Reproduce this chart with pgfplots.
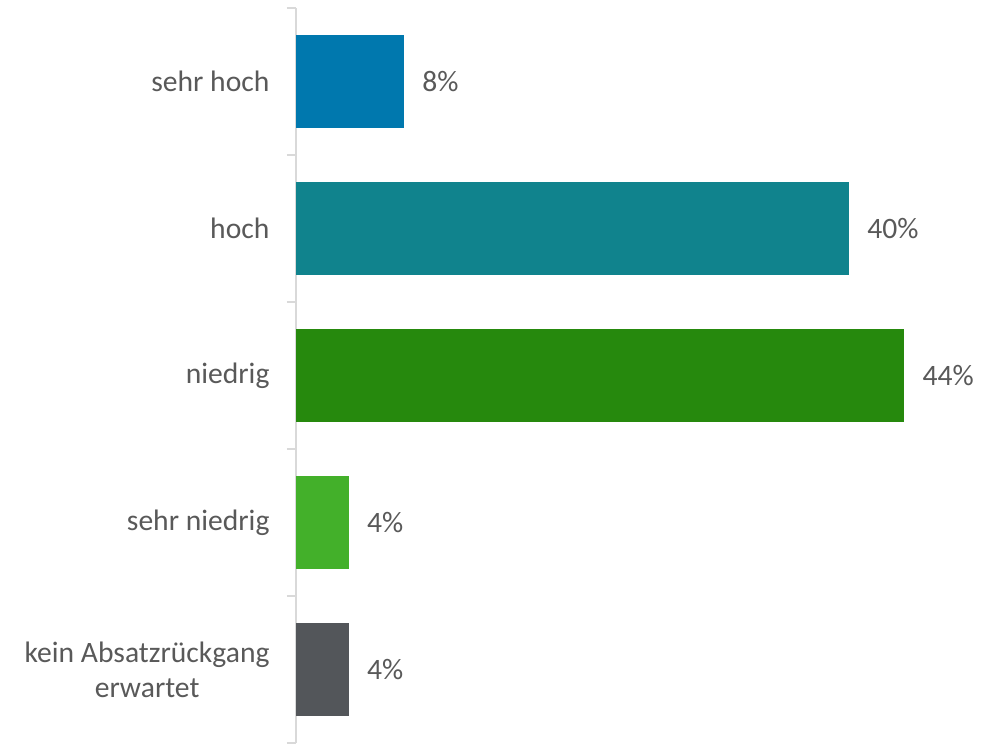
\documentclass[border=0pt]{standalone}
\usepackage{pgfplots}
\pgfplotsset{compat=1.18}
\usepackage{fontspec}
\setmainfont{Carlito}
\definecolor{txt}{HTML}{595959}
\definecolor{axl}{HTML}{D9D9D9}
\definecolor{c1}{HTML}{0078AE}
\definecolor{c2}{HTML}{10838D}
\definecolor{c3}{HTML}{26890D}
\definecolor{c4}{HTML}{43B02A}
\definecolor{c5}{HTML}{53565A}
\begin{document}
\begin{tikzpicture}
\useasboundingbox (0,0) rectangle (1005pt,744pt);
\begin{axis}[
  at={(296pt,1pt)}, anchor=south west,
  scale only axis, width=709pt, height=735pt,
  xbar, bar width=0.633, bar shift=0pt,
  xmin=0, xmax=51.3,
  ymin=-0.5, ymax=4.5, y dir=reverse,
  axis x line=none,
  axis y line*=left,
  y axis line style={axl, line width=1.5pt},
  ytick={0,1,2,3,4},
  yticklabels={sehr hoch,hoch,niedrig,sehr niedrig,{kein Absatzrückgang\\erwartet}},
  major tick length=0pt,
  minor ytick={-0.5,0.5,1.5,2.5,3.5,4.5},
  minor tick length=9pt,
  tick align=outside,
  minor y tick style={axl, line width=1.5pt},
  yticklabel style={font=\fontsize{29.6}{35}\selectfont, text=txt, align=center, xshift=-23pt},
  /pgf/number format/assume math mode=true,
  point meta=x,
  nodes near coords={\pgfmathprintnumber[fixed,precision=0]{\pgfplotspointmeta}\%},
  nodes near coords style={font=\fontsize{29.6}{35}\selectfont, text=txt, xshift=15pt},
  every axis plot/.append style={draw=none},
  clip=false,
]
\addplot[fill=c1] coordinates {(7.8,0)};
\addplot[fill=c2] coordinates {(40,1)};
\addplot[fill=c3] coordinates {(44,2)};
\addplot[fill=c4] coordinates {(3.8,3)};
\addplot[fill=c5] coordinates {(3.8,4)};
\end{axis}
\end{tikzpicture}
\end{document}
